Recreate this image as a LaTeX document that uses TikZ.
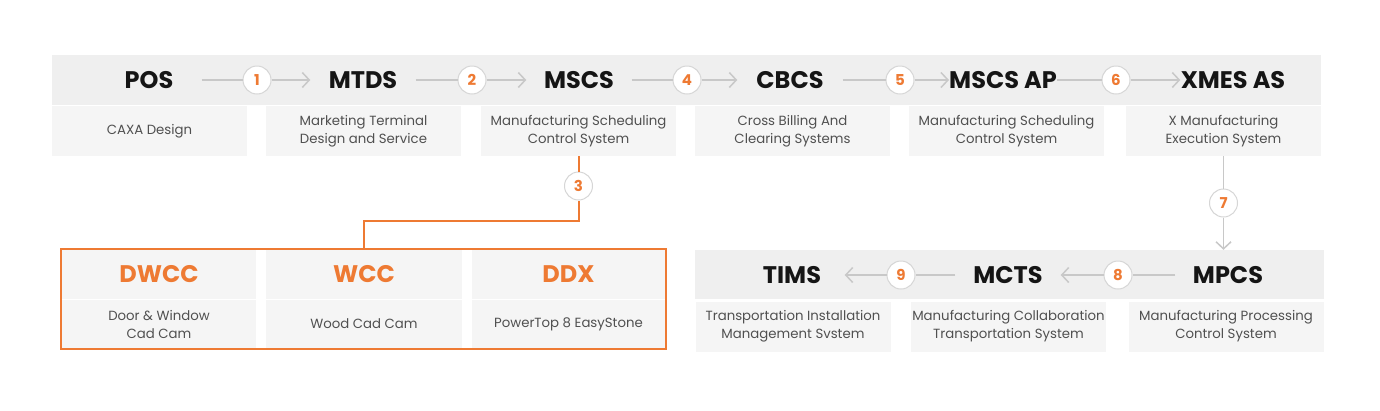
\documentclass[tikz,border=0pt]{standalone}
\usepackage{fontspec}
\setmainfont{Poppins}
\usetikzlibrary{arrows.meta,positioning,fit}
\definecolor{brandorange}{HTML}{EE7A33}
\definecolor{bandgray}{HTML}{EFEFEF}
\definecolor{boxgray}{HTML}{F5F5F5}
\definecolor{linegray}{HTML}{C8C8C8}
\definecolor{ringgray}{HTML}{D6D6D6}
\definecolor{descgray}{HTML}{505050}
\definecolor{headblack}{HTML}{151515}

\begin{document}
\begin{tikzpicture}[x=1pt, y=-1pt,
    head/.style={minimum width=105pt, minimum height=50pt, inner sep=0pt, font=\bfseries\fontsize{24}{24}\selectfont, text=headblack},
    desc/.style={fill=boxgray, minimum width=195pt, minimum height=50pt, inner sep=0pt, align=center, font=\fontsize{13.3}{18}\selectfont, text=descgray},
    num/.style={circle, draw=ringgray, fill=white, line width=1pt, minimum size=28pt, inner sep=0pt, font=\bfseries\fontsize{15}{15}\selectfont, text=brandorange},
    flow/.style={draw=linegray, line width=1.5pt},
    tip/.style={flow, -{Straight Barb[length=7pt, width=15pt]}},
    link/.style={draw=brandorange, line width=2pt}]
    \useasboundingbox (0,0) rectangle (1380,410);

    \fill[bandgray] (52,55) rectangle (1321,105);
    \fill[bandgray] (695,250) rectangle (1324,299);

    \node[desc] (POSd) at (149.5,131) {CAXA Design};
    \node[desc] (MTDSd) at (363.5,131) {Marketing Terminal\\Design and Service};
    \node[desc] (MSCSd) at (578.5,131) {Manufacturing Scheduling\\Control System};
    \node[desc] (CBCSd) at (792.5,131) {Cross Billing And\\Clearing Systems};
    \node[desc] (APd) at (1006.5,131) {Manufacturing Scheduling\\Control System};
    \node[desc] (XMESd) at (1223.5,131) {X Manufacturing\\Execution System};

    \node[head] (POS) at (149,80) {POS};
    \node[head] (MTDS) at (363,80) {MTDS};
    \node[head] (MSCS) at (579,80) {MSCS};
    \node[head] (CBCS) at (790,80) {CBCS};
    \node[head] (AP) at (1003,80) {MSCS AP};
    \node[head] (XMES) at (1233,80) {XMES AS};

    \node[num] (n1) at (257,80) {1};
    \node[num] (n2) at (472,80) {2};
    \node[num] (n4) at (687,80) {4};
    \node[num] (n5) at (900,80) {5};
    \node[num] (n6) at (1116,80) {6};

    \draw[flow] (POS) -- (n1);  \draw[tip] (n1) -- (MTDS);
    \draw[flow] (MTDS) -- (n2); \draw[tip] (n2) -- (MSCS);
    \draw[flow] (MSCS) -- (n4); \draw[tip] (n4) -- (CBCS);
    \draw[flow] (CBCS) -- (n5); \draw[tip] (n5) -- (AP);
    \draw[flow] (AP) -- (n6);   \draw[tip] (n6) -- (XMES);

    \node[desc, minimum width=194pt, minimum height=49pt, font=\bfseries\fontsize{24}{24}\selectfont, text=brandorange] (DWCC) at (159,274.5) {DWCC};
    \node[desc, minimum width=196pt, minimum height=49pt, font=\bfseries\fontsize{24}{24}\selectfont, text=brandorange] (WCC) at (364,274.5) {WCC};
    \node[desc, minimum width=194pt, minimum height=49pt, font=\bfseries\fontsize{24}{24}\selectfont, text=brandorange] (DDX) at (568.5,274.5) {DDX};
    \node[desc, minimum width=194pt, minimum height=48pt] (DWCCd) at (159,324) {Door \& Window\\Cad Cam};
    \node[desc, minimum width=196pt, minimum height=48pt] (WCCd) at (364,324) {Wood Cad Cam};
    \node[desc, minimum width=194pt, minimum height=48pt] (DDXd) at (568.5,324) {PowerTop 8 EasyStone};
    \node[draw=brandorange, line width=2pt, fit=(DWCC)(DDXd), inner sep=0.5pt] (suite) {};

    \node[num] (n3) at (578.5,186) {3};
    \draw[link] (MSCSd) -- (n3);
    \draw[link] (n3.south) -- ++(0,20) -| (WCC);

    \node[head] (MPCS) at (1228,275) {MPCS};
    \node[head] (MCTS) at (1008,275) {MCTS};
    \node[head] (TIMS) at (792,275) {TIMS};

    \node[desc] (TIMSd) at (793,326.5) {Transportation Installation\\Management Svstem};
    \node[desc] (MCTSd) at (1008.5,326.5) {Manufacturing Collaboration\\Transportation System};
    \node[desc] (MPCSd) at (1226,326.5) {Manufacturing Processing\\Control System};

    \node[num] (n7) at (1223.5,203) {7};
    \draw[flow] (XMESd) -- (n7); \draw[tip] (n7) -- (n7 |- MPCS.north);

    \node[num] (n8) at (1118,275) {8};
    \node[num] (n9) at (901,275) {9};
    \draw[flow] (MPCS) -- (n8); \draw[tip] (n8) -- (MCTS);
    \draw[flow] (MCTS) -- (n9); \draw[tip] (n9) -- (TIMS);
\end{tikzpicture}
\end{document}
